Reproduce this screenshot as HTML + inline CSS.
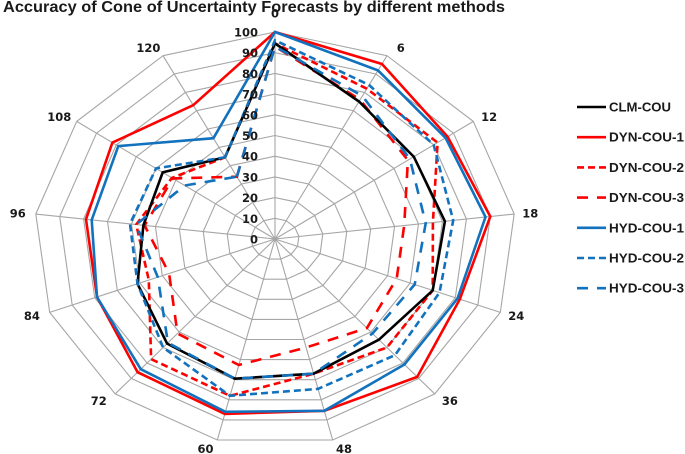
<!DOCTYPE html>
<html lang="en">
<head>
<meta charset="utf-8">
<title>Accuracy of Cone of Uncertainty Forecasts by different methods</title>
<style>
html,body{margin:0;padding:0;background:#fff;width:685px;height:454px;overflow:hidden}
svg{display:block}
text{font-family:"Liberation Sans",sans-serif;font-weight:bold;fill:#1a1a1a}
text.axis{font-family:"DejaVu Sans","Liberation Sans",sans-serif}
</style>
</head>
<body>
<svg id="chart" width="685" height="454" viewBox="0 0 685 454" xmlns="http://www.w3.org/2000/svg">
<g id="grid"></g>
<g id="series"></g>
<g id="labels"></g>
<g id="legend"></g>
<text x="3" y="12" font-size="15.5" textLength="502" lengthAdjust="spacingAndGlyphs">Accuracy of Cone of Uncertainty Forecasts by different methods</text>
</svg>
<script>
const categories = ['0','6','12','18','24','36','48','60','72','84','96','108','120'];
const radialTicks = [0,10,20,30,40,50,60,70,80,90,100];
const clmCou  = [94.5,75,70,71,70,65,67,69.5,67.5,61,55,56.6,44.6];
const dynCou1 = [100,95.5,87,90,82,89,85.5,87,86,79,79,82,73];
const dynCou2 = [94.5,82,82,66,70,70,67,78,77.5,56,58,52,44.6];
const dynCou3 = [93,76,67,54,54,57.5,54,62.7,61,47,54.5,51.5,34];
const hydCou1 = [100,92,86,88,81,81,85.5,86,84,79,76.6,79,55];
const hydCou2 = [96,84,80,74.5,73,75,74.6,78,70,61,60.6,60,44.6];
const hydCou3 = [93,78,68,63,62,61,67,69.5,67,52,58,45.5,34];

const seriesNames = ['CLM-COU','DYN-COU-1','DYN-COU-2','DYN-COU-3','HYD-COU-1','HYD-COU-2','HYD-COU-3'];
const seriesValues = [clmCou,dynCou1,dynCou2,dynCou3,hydCou1,hydCou2,hydCou3];
const drawOrder = [1,2,3,0,4,5,6];
const RED = '#ff0000', BLUE = '#1272bd', BLACK = '#000000';
const seriesColors = [BLACK,RED,RED,RED,BLUE,BLUE,BLUE];
const seriesDashes = ['none','none','7 4','11 9','none','7 4','11 9'];

const NS = 'http://www.w3.org/2000/svg';
const cx = 275, cy = 239, rx = 241, ry = 207, maxValue = 100;
function angle(i){ return i * 2 * Math.PI / categories.length; }
function px(i, v){ return cx + rx * (v / maxValue) * Math.sin(angle(i)); }
function py(i, v){ return cy - ry * (v / maxValue) * Math.cos(angle(i)); }
function pointsFor(vals){
  const pts = vals.map((v,i) => px(i,v).toFixed(1) + ',' + py(i,v).toFixed(1));
  pts.unshift(pts.pop());
  return pts.join(' ');
}
function make(tag, attrs, parent){
  const el = document.createElementNS(NS, tag);
  for (const k in attrs) el.setAttribute(k, attrs[k]);
  parent.appendChild(el);
  return el;
}

const gridG = document.getElementById('grid');
radialTicks.slice(1).forEach(t => {
  const ring = make('polygon', {points: pointsFor(categories.map(() => t)), fill:'none', stroke:'#a6a6a6', 'stroke-width':1.1}, gridG);
  
  
});
categories.forEach((c,i) => {
  const spoke = make('line', {x1:cx, y1:cy, x2:px(i,maxValue), y2:py(i,maxValue), stroke:'#a6a6a6', 'stroke-width':1.1}, gridG);
  
  
});

const seriesG = document.getElementById('series');
drawOrder.forEach(s => {
  const name = seriesNames[s];
  const line = make('polygon', {points: pointsFor(seriesValues[s]), fill:'none', stroke:seriesColors[s], 'stroke-width':2.6, 'stroke-dasharray':seriesDashes[s], 'stroke-linejoin':'miter'}, seriesG);
  
  
});

const labelsG = document.getElementById('labels');
radialTicks.forEach(t => {
  const tick = make('text', {class:'axis', x:258, y:cy - ry * t / maxValue + 4.5, 'font-size':11.5, 'text-anchor':'end'}, labelsG);
  tick.textContent = String(t);
  
  
});
categories.forEach((c,i) => {
  const s = Math.sin(angle(i)), co = Math.cos(angle(i));
  const ox = s > 0 ? 16 : 18;
  const oy = i === 0 ? 19 : 9;
  const nudge = 8 * Math.sign(s) * co * co;
  const lab = make('text', {class:'axis', x:cx + (rx + ox) * s + nudge, y:cy - (ry + oy) * co + 4.5, 'font-size':11.5, 'text-anchor':'middle'}, labelsG);
  lab.textContent = c;
  
  
});

const legendG = document.getElementById('legend');
seriesNames.forEach((name,s) => {
  const y = 107 + s * 30.2;
  const key = make('line', {x1:577, y1:y, x2:606, y2:y, stroke:seriesColors[s], 'stroke-width':2.6, 'stroke-dasharray':seriesDashes[s]}, legendG);
  
  
  const txt = make('text', {x:609, y:y + 4.5, 'font-size':12.5, textLength: name === 'CLM-COU' ? 62 : 75, lengthAdjust:'spacingAndGlyphs'}, legendG);
  txt.textContent = name;
  
  
});
</script>
</body>
</html>
